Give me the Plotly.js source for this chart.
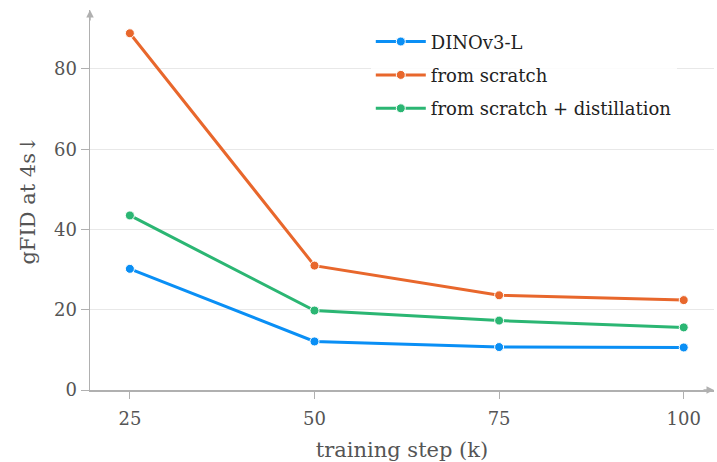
<!DOCTYPE html>
<html>
<head>
<meta charset="utf-8">
<script src="https://cdn.plot.ly/plotly-3.0.1.min.js"></script>
<style>html,body{margin:0;padding:0;background:#fff;}#chart{width:717px;height:462px;}
.legendtext{font-family:'DejaVu Serif',serif !important;}</style>
</head>
<body>
<div id="chart"></div>
<script>
const steps = [25, 50, 75, 100];
const seriesNames = ["DINOv3-L", "from scratch", "from scratch + distillation"];
const dinov3 = [30.2, 12.1, 10.7, 10.6];
const scratch = [88.9, 31.0, 23.6, 22.4];
const distill = [43.5, 19.8, 17.3, 15.6];
const colors = ["#0a8ff5", "#e8672c", "#2bb673"];
const xTicks = [25, 50, 75, 100];
const yTicks = [0, 20, 40, 60, 80];

const FONT = "DejaVu Serif";
const TXT = "#555555";
const AX = "#b0b0b0";

const vals = [dinov3, scratch, distill];
const traces = vals.map((v, i) => ({
  x: steps, y: v, name: seriesNames[i], type: "scatter", mode: "lines+markers",
  legendgroup: "g" + i,
  line: {color: colors[i], width: 3},
  marker: {color: colors[i], size: 9, line: {color: "#ffffff", width: 1}}
}));

const layout = {
  width: 717, height: 462,
  margin: {l: 90, r: 3, t: 10, b: 72},
  paper_bgcolor: "#fff", plot_bgcolor: "#fff",
  font: {family: FONT, color: TXT, size: 18},
  showlegend: true,
  legend: {x: 0.45, y: 0.965, xanchor: "left", yanchor: "top", bgcolor: "rgba(255,255,255,0.85)",
           font: {family: FONT, size: 18, color: "#222"}, tracegroupgap: 7, itemwidth: 50},
  xaxis: {range: [19.6, 104.1], tickvals: xTicks, ticktext: xTicks.map(String),
          showgrid: false, zeroline: false, showline: true, linecolor: AX, linewidth: 1.5,
          ticks: "outside", ticklen: 7, tickcolor: AX, tickwidth: 1, ticklabelstandoff: 5,
          tickfont: {family: FONT, size: 18, color: TXT},
          title: {text: "training step (k)", font: {family: FONT, size: 21, color: TXT}, standoff: 16}},
  yaxis: {range: [0, 94.7], tickvals: yTicks, ticktext: yTicks.map(String),
          showgrid: true, gridcolor: "#e8e8e8", gridwidth: 1, zeroline: false,
          showline: true, linecolor: AX, linewidth: 1.5,
          ticks: "outside", ticklen: 8, tickcolor: AX, tickwidth: 1,
          tickfont: {family: FONT, size: 18, color: TXT},
          title: {text: "gFID at 4s↓", font: {family: FONT, size: 21, color: TXT}, standoff: 12}},
  annotations: [
    {xref: "paper", yref: "paper", x: 0, y: 1, ax: 0, ay: 12, text: "", showarrow: true,
     arrowhead: 2, arrowsize: 1, arrowwidth: 1.5, arrowcolor: AX},
    {xref: "paper", yref: "paper", x: 1, y: 0, ax: -12, ay: 0, text: "", showarrow: true,
     arrowhead: 2, arrowsize: 1, arrowwidth: 1.5, arrowcolor: AX}
  ]
};

Plotly.newPlot("chart", traces, layout, {displayModeBar: false, staticPlot: true});
</script>
</body>
</html>
